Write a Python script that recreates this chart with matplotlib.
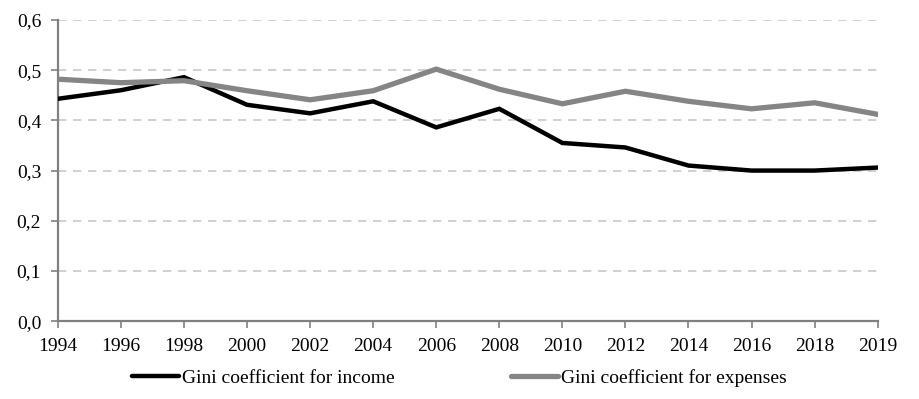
import matplotlib.pyplot as plt
from matplotlib.ticker import FuncFormatter

# Gini coefficients
years = ["1994", "1996", "1998", "2000", "2002", "2004", "2006",
         "2008", "2010", "2012", "2014", "2016", "2018", "2019"]
gini_income = [0.443, 0.460, 0.486, 0.431, 0.414, 0.438, 0.386,
               0.423, 0.355, 0.346, 0.310, 0.300, 0.300, 0.306]
gini_expenses = [0.482, 0.475, 0.479, 0.459, 0.441, 0.459, 0.502,
                 0.462, 0.433, 0.458, 0.438, 0.423, 0.435, 0.412]

plt.rcParams["font.family"] = ["Liberation Serif", "DejaVu Serif"]

fig = plt.figure(figsize=(9.19, 3.99), dpi=100)
ax = fig.add_axes([0.063, 0.195, 0.892, 0.755])

x = range(len(years))
ax.plot(x, gini_income, color="black", lw=3.2, label="Gini coefficient for income",
        solid_joinstyle="miter", zorder=3)
ax.plot(x, gini_expenses, color="#858585", lw=3.8, label="Gini coefficient for expenses",
        solid_joinstyle="miter", zorder=3)

ax.set_xlim(0, len(years) - 1)
ax.set_ylim(0, 0.6)
ax.set_xticks(list(x))
ax.set_xticklabels(years)
ax.set_yticks([0, 0.1, 0.2, 0.3, 0.4, 0.5, 0.6])
ax.yaxis.set_major_formatter(FuncFormatter(lambda v, p: f"{v:.1f}".replace(".", ",")))

ax.grid(axis="y", color="#c8c8c8", linestyle=(0, (5, 4)), linewidth=1.2, zorder=0)
for s in ["top", "right"]:
    ax.spines[s].set_visible(False)
for s in ["left", "bottom"]:
    ax.spines[s].set_color("#808080")
    ax.spines[s].set_linewidth(1.6)
ax.tick_params(axis="both", colors="#808080", labelcolor="black", labelsize=14,
               length=5, width=1.2)
ax.tick_params(axis="y", pad=7)
ax.tick_params(axis="x", pad=7)

leg = ax.legend(loc="upper center", bbox_to_anchor=(0.49, -0.1), ncol=2, frameon=False,
                fontsize=14, handlelength=2.4, handletextpad=0.15, columnspacing=6.0)
for h in leg.get_lines():
    h.set_solid_capstyle("round")

fig.savefig("out.png", dpi=100)
